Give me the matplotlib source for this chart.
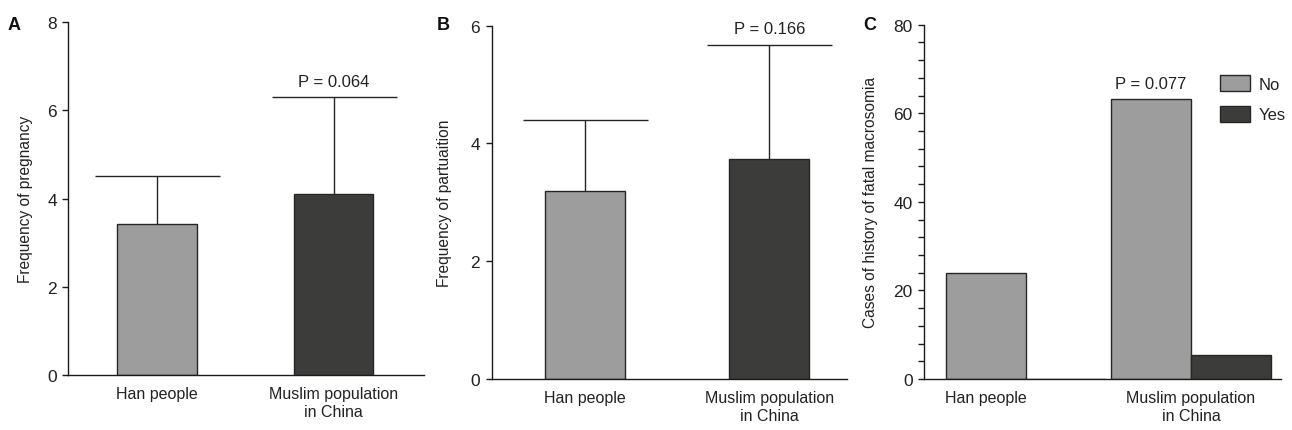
import numpy as np
import matplotlib
matplotlib.use("Agg")
import matplotlib.pyplot as plt
from matplotlib.ticker import MultipleLocator

plt.rcParams['font.family'] = ['Liberation Sans', 'DejaVu Sans']

groups = ["Han people", "Muslim population\nin China"]

# A: frequency of pregnancy (mean + SD)
preg_mean = [3.42, 4.10]
preg_sd = [1.10, 2.20]
preg_p = "P = 0.064"

# B: frequency of parturition (mean + SD)
part_mean = [3.20, 3.73]
part_sd = [1.20, 1.95]
part_p = "P = 0.166"

# C: cases of history of fetal macrosomia
macro_no = [24, 63.3]
macro_yes = [0, 5.5]
macro_labels = ["No", "Yes"]
macro_p = "P = 0.077"

LIGHT = "#9d9d9d"
DARK = "#3c3c3b"
EDGE = "#262626"
TXT = "#222222"

W, H = 1292, 431
fig = plt.figure(figsize=(W / 100, H / 100), dpi=100)


def px_axes(left, right, top, bottom):
    return fig.add_axes([left / W, 1 - bottom / H, (right - left) / W, (bottom - top) / H])


def style(ax):
    for s in ("top", "right"):
        ax.spines[s].set_visible(False)
    for s in ("left", "bottom"):
        ax.spines[s].set_linewidth(1.0)
        ax.spines[s].set_color("#1a1a1a")
    ax.tick_params(axis="y", direction="out", length=4.3, width=1.0,
                   pad=4, labelsize=12.5, colors="#1a1a1a", labelcolor=TXT)
    ax.tick_params(axis="y", which="minor", direction="out", length=4.3, width=1.0,
                   colors="#1a1a1a")
    ax.tick_params(axis="x", length=0, pad=8, labelsize=11.5, labelcolor=TXT)


def mean_panel(ax, means, sds, ptxt, width, xlim, ymax, ylabel, lab_x):
    x = np.arange(len(means))
    ax.bar(x, means, width=width, color=[LIGHT, DARK], edgecolor=EDGE, linewidth=1.0, zorder=2)
    eb = ax.errorbar(x, means, yerr=[np.zeros(len(sds)), sds], fmt="none", ecolor=EDGE,
                     elinewidth=1.0, capsize=45, capthick=1.0, zorder=1)
    # only the upper cap is shown
    eb[1][0].set_visible(False)
    top = means[1] + sds[1]
    ax.annotate(ptxt, (x[1], top), xytext=(0, 8), textcoords="offset points",
                ha="center", va="baseline", fontsize=12, color=TXT)
    ax.set_xlim(*xlim)
    ax.set_ylim(0, ymax)
    ax.set_yticks(np.arange(0, ymax + 1, 2))
    ax.set_xticks(x)
    ax.set_xticklabels(groups)
    ax.set_ylabel(ylabel, fontsize=11.2, color=TXT)
    ax.yaxis.set_label_coords(lab_x, 0.5)
    style(ax)


axA = px_axes(68.3, 424, 23.3, 376)
mean_panel(axA, preg_mean, preg_sd, preg_p, 0.453, (-0.504, 1.513), 8,
           "Frequency of pregnancy", -0.098)

axB = px_axes(491.7, 847, 26.7, 380)
mean_panel(axB, part_mean, part_sd, part_p, 0.433, (-0.504, 1.421), 6,
           "Frequency of partuaition", -0.113)

axC = px_axes(924.3, 1280.7, 25.7, 380)
w = 0.484
xc = np.arange(2)
axC.bar(xc - w / 2, macro_no, width=w, color=LIGHT, edgecolor=EDGE, linewidth=1.0,
        label=macro_labels[0], zorder=2)
axC.bar(xc + w / 2, macro_yes, width=w, color=DARK, edgecolor=EDGE, linewidth=1.0,
        label=macro_labels[1], zorder=2)
axC.annotate(macro_p, (xc[1] - w / 2, macro_no[1]), xytext=(0, 8), textcoords="offset points",
             ha="center", va="baseline", fontsize=12, color=TXT)
axC.set_xlim(-0.613, 1.543)
axC.set_ylim(0, 80)
axC.set_yticks(np.arange(0, 81, 20))
axC.yaxis.set_minor_locator(MultipleLocator(4))
axC.set_xticks([xc[0] - w / 2, xc[1]])
axC.set_xticklabels(groups)
axC.set_ylabel("Cases of history of fatal macrosomia", fontsize=11.2, color=TXT)
axC.yaxis.set_label_coords(-0.129, 0.5)
style(axC)
leg = axC.legend(loc="upper left", bbox_to_anchor=(1220 / W, 1 - 75.7 / H),
                 bbox_transform=fig.transFigure, frameon=False, fontsize=12,
                 handlelength=1.8, handleheight=1.14, labelspacing=0.84,
                 handletextpad=0.5, borderpad=0, borderaxespad=0)
for t in leg.get_texts():
    t.set_color(TXT)

for lab, xp in (("A", 8), ("B", 436.7), ("C", 863.3)):
    fig.text(xp / W, 1 - 30 / H, lab, fontsize=13, fontweight="bold", va="baseline", color="#111111")

fig.savefig("out.png", dpi=100)
